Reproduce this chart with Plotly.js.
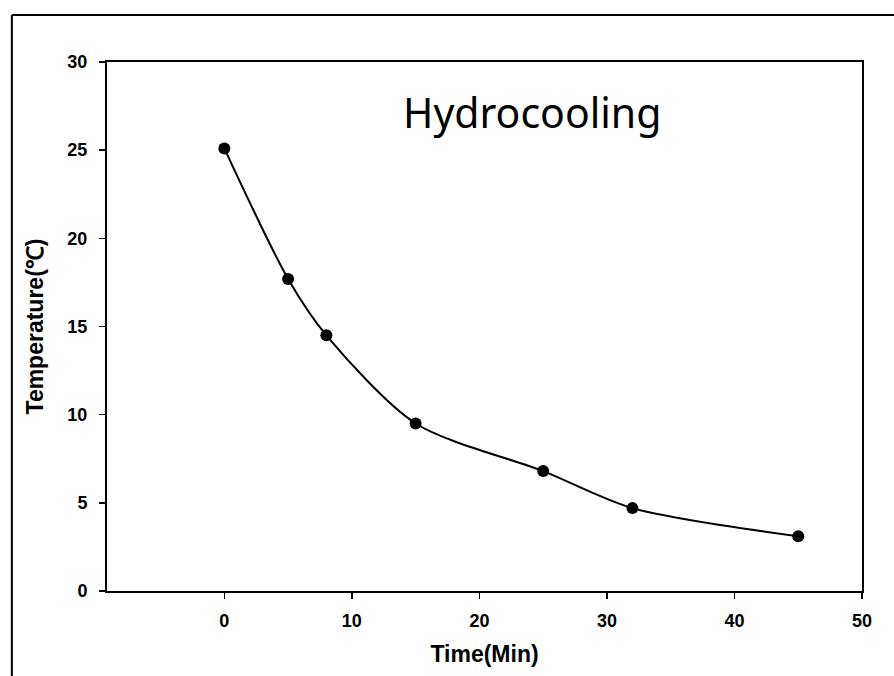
<!DOCTYPE html>
<html>
<head>
<meta charset="utf-8">
<script src="https://cdn.plot.ly/plotly-3.0.1.min.js"></script>
<style>html,body{margin:0;padding:0;background:#fff;}#chart{width:894px;height:676px;}</style>
</head>
<body>
<div id="chart"></div>
<script>
const timeMin = [0, 5, 8, 15, 25, 32, 45];
const temperature = [25.1, 17.7, 14.5, 9.5, 6.8, 4.7, 3.1];
const xTicks = [0, 10, 20, 30, 40, 50];
const yTicks = [0, 5, 10, 15, 20, 25, 30];
const chartTitle = "Hydrocooling";
const xLabel = "Time(Min)";
const yLabel = "Temperature(℃)";

const trace = {
  x: timeMin, y: temperature, type: 'scatter', mode: 'lines+markers',
  line: {shape: 'spline', smoothing: 0.8, color: '#000', width: 2},
  marker: {color: '#000', size: 12},
  showlegend: false, hoverinfo: 'skip'
};
const fam = 'Liberation Sans, Arial, sans-serif';
const tickFont = {family: fam, size: 18, color: '#000', weight: 'bold'};
const layout = {
  width: 894, height: 676,
  margin: {l: 107, r: 32, t: 62, b: 85},
  paper_bgcolor: '#fff', plot_bgcolor: '#fff',
  xaxis: {
    range: [-9.2, 50], tickvals: xTicks, ticktext: xTicks.map(String),
    showgrid: false, zeroline: false, showline: true, linecolor: '#000', linewidth: 2,
    mirror: true, ticks: 'outside', ticklen: 6, tickwidth: 1.5, tickcolor: '#000',
    tickfont: tickFont, ticklabelstandoff: 6,
    title: {text: xLabel, font: {family: fam, size: 23, color: '#000', weight: 'bold'}, standoff: 16}
  },
  yaxis: {
    range: [0, 30], tickvals: yTicks, ticktext: yTicks.map(String),
    showgrid: false, zeroline: false, showline: true, linecolor: '#000', linewidth: 2,
    mirror: true, ticks: 'outside', ticklen: 6, tickwidth: 1.5, tickcolor: '#000',
    tickfont: tickFont, ticklabelstandoff: 8,
    title: {text: yLabel, font: {family: fam, size: 23, color: '#000', weight: 'bold'}, standoff: 17}
  },
  annotations: [{
    text: chartTitle, xref: 'paper', yref: 'paper', x: 0.563, y: 0.905,
    xanchor: 'center', yanchor: 'middle', showarrow: false,
    font: {family: 'Noto Sans, Open Sans, sans-serif', size: 41, color: '#000'}
  }],
  shapes: [
    {type: 'line', xref: 'paper', yref: 'paper', x0: -0.126, x1: 1.05, y0: 1.089, y1: 1.089, line: {color: '#000', width: 2}},
    {type: 'line', xref: 'paper', yref: 'paper', x0: -0.126, x1: -0.126, y0: 1.089, y1: -0.2, line: {color: '#000', width: 2}}
  ]
};
Plotly.newPlot('chart', [trace], layout, {staticPlot: true, displayModeBar: false});
</script>
</body>
</html>
